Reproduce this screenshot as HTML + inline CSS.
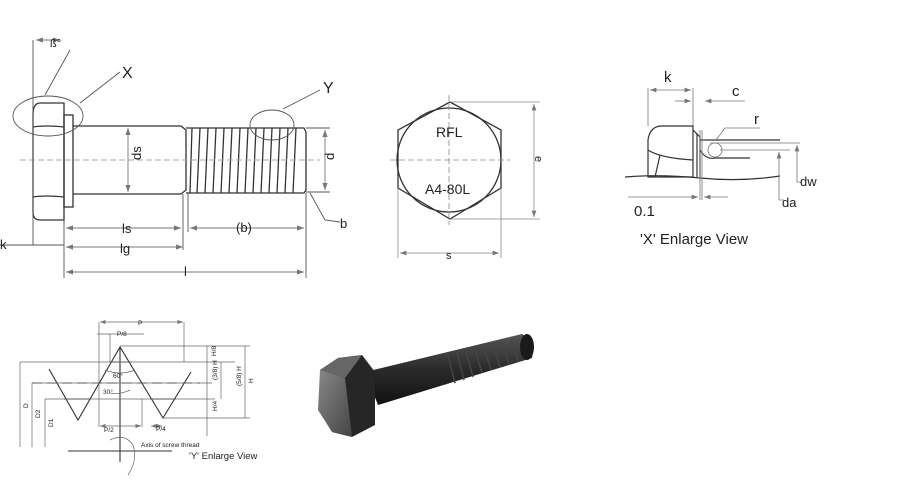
<!DOCTYPE html>
<html><head><style>html,body{margin:0;padding:0;background:#fff}svg{display:block}text{font-family:"Liberation Sans",sans-serif;fill:#222}</style></head>
<body>
<svg width="900" height="497" viewBox="0 0 900 497" xmlns="http://www.w3.org/2000/svg">
<defs><marker id="a" markerWidth="8" markerHeight="6" refX="8" refY="3" orient="auto-start-reverse"><path d="M0,0L8,3L0,6z" fill="#777"/></marker>
<linearGradient id="g1" x1="0" y1="0" x2="0" y2="1"><stop offset="0" stop-color="#555"/><stop offset="0.5" stop-color="#2a2a2a"/><stop offset="1" stop-color="#111"/></linearGradient>
<linearGradient id="g2" x1="0" y1="0" x2="1" y2="1"><stop offset="0" stop-color="#888"/><stop offset="1" stop-color="#444"/></linearGradient></defs>
<g fill="none" stroke="#333" stroke-width="1.3">
<path d="M40,103 Q33,103 33,115 L33,212 Q33,220 40,220 L64,220 L64,103 Z"/>
<path d="M33,127 Q45,125 64,127 M33,197 Q45,195 64,197"/>
<rect x="64" y="115" width="9" height="92"/>
<path d="M73,126 L181,126 L186,130 L186,190 L181,194 L73,194"/>
<path d="M186,128 L304,128 L306,132 L306,190 L304,193 L186,193"/>
<path d="M192,128 L190,193 M200,128 L197,193 M208,128 L205,193 M216,128 L213,193 M224,128 L221,193 M232,128 L229,193 M240,128 L237,193 M248,128 L245,193 M256,128 L253,193 M264,128 L261,193 M272,128 L269,193 M280,128 L277,193 M288,128 L285,193 M296,128 L293,193"/>
</g>
<g fill="none" stroke="#555" stroke-width="0.9">
<ellipse cx="48" cy="116" rx="35" ry="20"/>
<ellipse cx="272" cy="125" rx="22" ry="15"/>
<path d="M80,103 L120,72 M283,109 L320,90 M45,95 L70,50 M310,193 L325,220 L340,222"/>
<line x1="20" y1="160" x2="320" y2="160" stroke="#aaa" stroke-dasharray="6,3"/>
<line x1="33" y1="40" x2="33" y2="245"/><line x1="64" y1="220" x2="64" y2="278"/>
<line x1="183" y1="194" x2="183" y2="250"/><line x1="188" y1="193" x2="188" y2="232"/><line x1="306" y1="193" x2="306" y2="278"/>
<line x1="306" y1="128" x2="330" y2="128"/><line x1="306" y1="192" x2="330" y2="192"/>
<line x1="0" y1="245" x2="64" y2="245"/>
</g>
<g stroke="#777" stroke-width="0.9" fill="none" marker-start="url(#a)" marker-end="url(#a)">
<line x1="66" y1="228" x2="181" y2="228"/><line x1="190" y1="228" x2="304" y2="228"/>
<line x1="66" y1="247" x2="183" y2="247"/><line x1="66" y1="272" x2="304" y2="272"/>
<line x1="128" y1="128" x2="128" y2="192"/><line x1="325" y1="130" x2="325" y2="190"/>
<line x1="36" y1="40" x2="60" y2="40"/>
</g>
<g font-size="13">
<text x="122" y="78" font-size="16">X</text><text x="323" y="93" font-size="16">Y</text>
<text x="50" y="47" font-size="11">ß°</text>
<text x="122" y="233">ls</text><text x="120" y="253">lg</text><text x="236" y="232">(b)</text>
<text x="184" y="276">l</text><text x="340" y="228">b</text><text x="0" y="249">k</text>
<text x="131" y="170" transform="rotate(-90 131 160)">ds</text>
<text x="331" y="163" transform="rotate(-90 331 160)">d</text>
</g>
<g fill="none" stroke="#333" stroke-width="1.3">
<polygon points="450,102 501,130 501,188 450,219 398,188 398,130"/>
<circle cx="449" cy="160" r="52"/>
</g>
<g stroke="#888" stroke-width="0.8" fill="none">
<line x1="390" y1="160" x2="510" y2="160" stroke-dasharray="6,3"/><line x1="449" y1="95" x2="449" y2="225" stroke-dasharray="6,3"/>
<line x1="450" y1="102" x2="540" y2="102"/><line x1="450" y1="219" x2="540" y2="219"/>
<line x1="398" y1="188" x2="398" y2="258"/><line x1="501" y1="188" x2="501" y2="258"/>
<line x1="534" y1="104" x2="534" y2="217" marker-start="url(#a)" marker-end="url(#a)"/>
<line x1="400" y1="253" x2="499" y2="253" marker-start="url(#a)" marker-end="url(#a)"/>
</g>
<text x="436" y="137" font-size="14">RFL</text><text x="425" y="194" font-size="14">A4-80L</text>
<text x="446" y="259" font-size="11">s</text>
<text x="536" y="165" font-size="11" transform="rotate(90 540 160)">e</text>
<g fill="none" stroke="#333" stroke-width="1.2">
<path d="M693,177 L648,177 L648,140 Q650,126 662,126 L693,126 Z"/>
<path d="M648,150 Q660,158 693,160 M655,177 L660,155"/>
<path d="M693,130 L700,137 L700,177 M697,133 L697,177"/>
<path d="M700,150 Q706,160 715,158 L750,158 M700,140 L780,140"/>
<path d="M625,177 Q660,174 700,178 T780,176"/>
</g>
<g stroke="#777" stroke-width="0.8" fill="none">
<line x1="648" y1="126" x2="648" y2="88"/><line x1="693" y1="126" x2="693" y2="88"/><line x1="700" y1="130" x2="700" y2="200"/><line x1="702" y1="130" x2="702" y2="200"/>
<line x1="650" y1="90" x2="691" y2="90" marker-start="url(#a)" marker-end="url(#a)"/>
<line x1="675" y1="101" x2="691" y2="101" marker-end="url(#a)"/><line x1="745" y1="101" x2="705" y2="101" marker-end="url(#a)"/>
<line x1="628" y1="197" x2="698" y2="197" marker-end="url(#a)"/><line x1="728" y1="197" x2="704" y2="197" marker-end="url(#a)"/>
<path d="M760,128 L725,128 L716,140"/><circle cx="715" cy="150" r="7"/>
<line x1="720" y1="150" x2="790" y2="150"/><line x1="710" y1="143" x2="800" y2="143"/>
<line x1="797" y1="145" x2="797" y2="178" marker-start="url(#a)"/><line x1="779" y1="152" x2="779" y2="200" marker-start="url(#a)"/>
<path d="M797,178 L797,182 L802,182 M779,200 L784,200"/>
</g>
<g font-size="15"><text x="664" y="82">k</text><text x="732" y="96">c</text><text x="754" y="124">r</text>
<text x="800" y="186" font-size="13">dw</text><text x="782" y="207" font-size="13">da</text><text x="634" y="216">0.1</text>
<text x="640" y="244">'X' Enlarge View</text></g>
<!-- Y view -->
<g fill="none" stroke="#333" stroke-width="1.1">
<path d="M49,369 L78,420 L120,347 L163,418 L191,372"/>
<line x1="110" y1="362" x2="132" y2="362"/>
<line x1="64" y1="399" x2="91" y2="399"/><line x1="150" y1="399" x2="176" y2="399"/>
<line x1="32" y1="383" x2="200" y2="383" stroke-dasharray="10,5"/>
<line x1="120" y1="347" x2="120" y2="462"/><line x1="68" y1="451" x2="172" y2="451"/>
</g>
<g stroke="#666" stroke-width="0.7" fill="none">
<line x1="20" y1="362" x2="235" y2="362"/><line x1="32" y1="383" x2="212" y2="383"/><line x1="45" y1="399" x2="215" y2="399"/>
<line x1="120" y1="346" x2="250" y2="346"/><line x1="163" y1="418" x2="250" y2="418"/>
<line x1="20" y1="362" x2="20" y2="447"/><line x1="32" y1="383" x2="32" y2="447"/><line x1="45" y1="399" x2="45" y2="447"/>
<line x1="99" y1="322" x2="99" y2="427"/><line x1="184" y1="322" x2="184" y2="362"/><line x1="142" y1="399" x2="142" y2="427"/><line x1="110" y1="334" x2="110" y2="362"/>
<line x1="100" y1="322" x2="183" y2="322" marker-start="url(#a)" marker-end="url(#a)"/>
<line x1="97" y1="334" x2="144" y2="334"/>
<line x1="100" y1="426" x2="141" y2="426" marker-start="url(#a)" marker-end="url(#a)"/>
<line x1="151" y1="426" x2="162" y2="426" marker-start="url(#a)" marker-end="url(#a)"/>
<line x1="207" y1="346" x2="207" y2="436"/><line x1="221" y1="362" x2="221" y2="399"/><line x1="245" y1="346" x2="245" y2="418"/>
<path d="M110,440 Q125,433 133,445 Q138,460 128,475"/>
<path d="M105,370 Q120,376 135,370 M110,393 Q120,395 130,390"/>
</g>
<g font-size="6.5"><text x="138" y="325">P</text><text x="117" y="336">P/8</text><text x="113" y="378">60°</text><text x="104" y="432">P/2</text><text x="156" y="431">P/4</text>
<text x="103" y="394">30°</text><text x="141" y="447">Axis of screw thread</text></g>
<g font-size="6.5"><text x="212" y="360" transform="rotate(-90 212 356)">H/8</text><text x="212" y="385" transform="rotate(-90 212 380)">(3/8) H</text>
<text x="212" y="416" transform="rotate(-90 212 411)">H/4</text><text x="236" y="391" transform="rotate(-90 236 386)">(5/8) H</text>
<text x="249" y="387" transform="rotate(-90 249 383)">H</text><text x="24" y="412" transform="rotate(-90 24 408)">D</text>
<text x="36" y="422" transform="rotate(-90 36 418)">D2</text><text x="49" y="431" transform="rotate(-90 49 427)">D1</text></g>
<text x="189" y="459" font-size="9.5">'Y' Enlarge View</text>
<!-- 3D bolt -->
<path d="M365,372 L522,334 Q535,340 532,358 L378,405 Z" fill="url(#g1)"/>
<g stroke="#444" stroke-width="1.5">
<line x1="448" y1="355" x2="455" y2="383"/><line x1="457" y1="353" x2="464" y2="380"/><line x1="466" y1="351" x2="473" y2="377"/><line x1="475" y1="349" x2="482" y2="373"/><line x1="484" y1="347" x2="491" y2="370"/><line x1="493" y1="344" x2="500" y2="367"/><line x1="502" y1="342" x2="509" y2="364"/><line x1="511" y1="340" x2="518" y2="361"/>
</g>
<ellipse cx="527" cy="347" rx="7" ry="13" fill="#1a1a1a"/>
<path d="M320,370 L338,358 L362,355 L375,372 L375,425 L352,437 L332,432 Z" fill="#262626"/>
<path d="M320,370 L338,358 L362,355 L345,378 Z" fill="#666"/>
<path d="M320,370 L345,378 L352,437 L332,432 L318,410 Z" fill="url(#g2)"/>
</svg>
</body></html>
